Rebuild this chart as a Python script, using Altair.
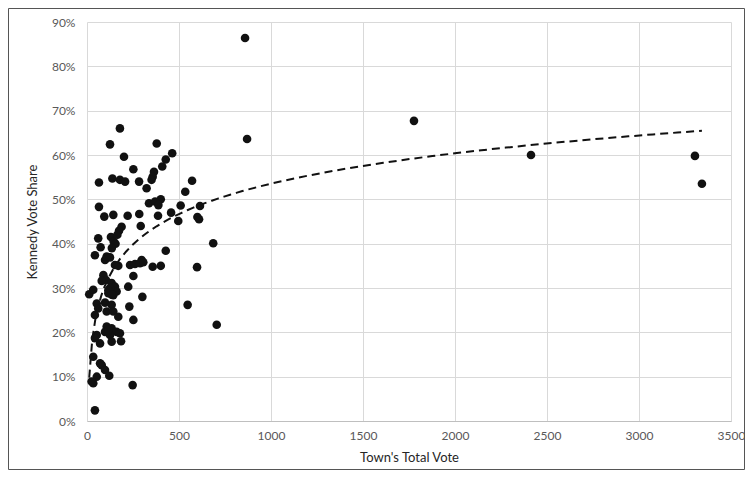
import altair as alt
import pandas as pd

# Town's total vote and Kennedy vote share
total_vote = [
    859, 870, 1777, 2413, 3304, 3342,
    463, 428, 409, 571, 534, 401, 509, 614, 457, 496, 609, 600, 686, 428, 401, 598, 547, 705,
    179, 125, 379, 201, 252, 65, 138, 179, 207, 283, 364, 357, 351, 324, 65, 94, 143, 221, 284,
    337, 370, 388, 386, 292, 188, 174, 61, 74, 130, 145, 155, 135, 165, 43, 107, 297, 98, 125,
    170, 152, 234, 261, 288, 306, 357, 252, 89, 103, 80, 134, 152, 125, 161, 116, 143, 224, 12,
    34, 301, 53, 61, 43, 98, 134, 107, 143, 230, 170, 252, 107, 134, 98, 161, 179, 125, 53, 71,
    134, 185, 43, 34, 80, 98, 121, 53, 34, 248, 43, 71, 25,
    125, 116, 134, 116,
]
kennedy_share = [
    0.864, 0.636, 0.677, 0.600, 0.598, 0.535,
    0.604, 0.590, 0.574, 0.542, 0.517, 0.500, 0.486, 0.485, 0.470, 0.451, 0.455, 0.460, 0.401,
    0.384, 0.350, 0.347, 0.262, 0.217,
    0.660, 0.624, 0.626, 0.596, 0.568, 0.538, 0.547, 0.544, 0.540, 0.540, 0.562, 0.551, 0.544,
    0.525, 0.483, 0.461, 0.465, 0.463, 0.467, 0.491, 0.495, 0.487, 0.463, 0.440, 0.438, 0.429,
    0.412, 0.392, 0.415, 0.405, 0.400, 0.390, 0.420, 0.374, 0.371, 0.363, 0.363, 0.369, 0.350,
    0.352, 0.352, 0.354, 0.356, 0.358, 0.348, 0.327, 0.329, 0.318, 0.316, 0.311, 0.303, 0.296,
    0.292, 0.288, 0.284, 0.303, 0.286, 0.296, 0.280, 0.265, 0.254, 0.239, 0.267, 0.262, 0.247,
    0.247, 0.258, 0.235, 0.228, 0.213, 0.209, 0.201, 0.201, 0.198, 0.194, 0.194, 0.175, 0.179,
    0.180, 0.187, 0.145, 0.126, 0.115, 0.102, 0.100, 0.085, 0.081, 0.024, 0.130, 0.089,
    0.300, 0.295, 0.285, 0.205,
]
x_ticks = [0, 500, 1000, 1500, 2000, 2500, 3000, 3500]
y_ticks = [0.0, 0.1, 0.2, 0.3, 0.4, 0.5, 0.6, 0.7, 0.8, 0.9]

df = pd.DataFrame({"vote": total_vote, "share": kennedy_share})

FONT = "Lato"
W, H = 644, 399

x_enc = alt.X(
    "vote:Q",
    scale=alt.Scale(domain=[0, 3500], nice=False),
    axis=alt.Axis(
        values=x_ticks, title="Town's Total Vote", format="d",
        labelPadding=9, titlePadding=10, domain=True, domainColor="#bfbfbf",
        ticks=False, labelFlush=False,
    ),
)
y_enc = alt.Y(
    "share:Q",
    scale=alt.Scale(domain=[0, 0.9], nice=False),
    axis=alt.Axis(
        values=y_ticks, format=".0%", title="Kennedy Vote Share",
        labelPadding=12, titlePadding=12, domain=False, ticks=False,
        labelFlush=False,
    ),
)

base = alt.Chart(df)

points = base.mark_circle(size=74, color="#111111", opacity=1).encode(x=x_enc, y=y_enc)

trend = (
    base.transform_regression("vote", "share", method="log")
    .mark_line(color="#111111", strokeWidth=2, strokeDash=[8, 5])
    .encode(x="vote:Q", y="share:Q")
)

frame = alt.Chart(pd.DataFrame({"a": [0]})).mark_rect(
    filled=False, stroke="#555555", strokeWidth=1
).encode(
    x=alt.value(-78.5), x2=alt.value(W + 13.5),
    y=alt.value(-13.5), y2=alt.value(H + 48.5),
)

chart = (
    alt.layer(points, trend, frame)
    .properties(
        width=W, height=H,
        autosize=alt.AutoSizeParams(type="none"),
        padding={"left": 79, "top": 14, "right": 14, "bottom": 49},
        background="white",
    )
    .configure_view(stroke=None)
    .configure_axis(
        gridColor="#d9d9d9", gridWidth=1,
        labelFont=FONT, labelFontSize=12, labelColor="#595959",
        titleFont=FONT, titleFontSize=13, titleColor="#262626", titleFontWeight="normal",
    )
)

chart.save("out.html", embed_options={"renderer": "svg", "actions": False})
